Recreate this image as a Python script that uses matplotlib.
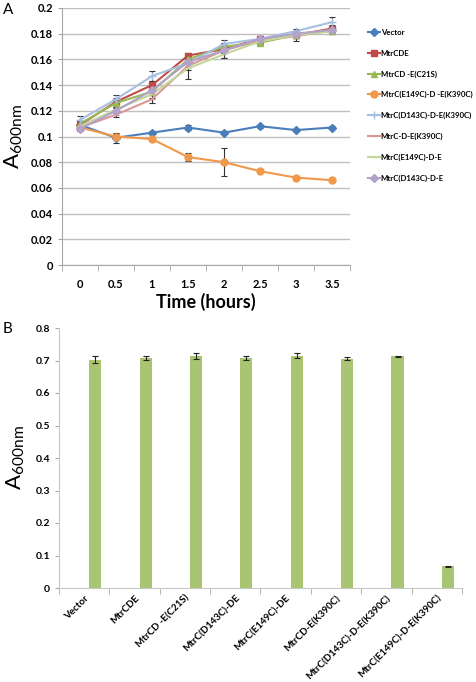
import matplotlib
matplotlib.use("Agg")
import matplotlib.pyplot as plt
from matplotlib.ticker import FixedLocator

plt.rcParams['font.family'] = ['Lato', 'DejaVu Sans']
plt.rcParams['mathtext.fontset'] = 'custom'
plt.rcParams['mathtext.rm'] = 'Lato'

# panel A: growth curves
times = ["0", "0.5", "1", "1.5", "2", "2.5", "3", "3.5"]
names = ["Vector", "MtrCDE", "MtrCD -E(C21S)", "MtrC(E149C)-D -E(K390C)",
         "MtrC(D143C)-D-E(K390C)", "MtrC-D-E(K390C)", "MtrC(E149C)-D-E",
         "MtrC(D143C)-D-E"]
vector = [0.109, 0.099, 0.103, 0.107, 0.103, 0.108, 0.105, 0.107]
mtrcde = [0.109, 0.127, 0.140, 0.163, 0.168, 0.176, 0.179, 0.184]
c21s = [0.110, 0.126, 0.135, 0.160, 0.170, 0.173, 0.179, 0.182]
e149_k390 = [0.107, 0.100, 0.098, 0.084, 0.080, 0.073, 0.068, 0.066]
d143_k390 = [0.113, 0.129, 0.147, 0.157, 0.172, 0.176, 0.182, 0.189]
k390 = [0.107, 0.117, 0.129, 0.155, 0.167, 0.175, 0.178, 0.183]
e149 = [0.108, 0.121, 0.133, 0.153, 0.164, 0.174, 0.179, 0.182]
d143 = [0.106, 0.120, 0.136, 0.158, 0.167, 0.176, 0.180, 0.183]

err_vector = [0.003, 0.004, 0.001, 0.002, 0.001, 0.001, 0.001, 0.001]
err_mtrcde = [0.002, 0.003, 0.003, 0.002, 0.003, 0.002, 0.002, 0.003]
err_c21s = [0.002, 0.003, 0.003, 0.003, 0.003, 0.002, 0.002, 0.002]
err_e149_k390 = [0.002, 0.002, 0.001, 0.003, 0.011, 0.001, 0.001, 0.001]
err_d143_k390 = [0.003, 0.003, 0.004, 0.003, 0.003, 0.002, 0.002, 0.004]
err_k390 = [0.003, 0.002, 0.003, 0.003, 0.002, 0.002, 0.004, 0.002]
err_e149 = [0.002, 0.002, 0.003, 0.008, 0.003, 0.002, 0.002, 0.002]
err_d143 = [0.002, 0.002, 0.003, 0.003, 0.006, 0.002, 0.002, 0.002]

# panel B: endpoint OD
strains = ["Vector", "MtrCDE", "MtrCD -E(C21S)", "MtrC(D143C)-DE", "MtrC(E149C)-DE",
           "MtrCD-E(K390C)", "MtrC(D143C)-D-E(K390C)", "MtrC(E149C)-D-E(K390C)"]
od = [0.703, 0.708, 0.713, 0.708, 0.715, 0.706, 0.713, 0.067]
od_err = [0.010, 0.007, 0.009, 0.006, 0.007, 0.004, 0.001, 0.002]

series = [vector, mtrcde, c21s, e149_k390, d143_k390, k390, e149, d143]
errs = [err_vector, err_mtrcde, err_c21s, err_e149_k390, err_d143_k390, err_k390, err_e149, err_d143]
colors = ["#4A7EBB", "#BE4B48", "#98B954", "#F1984A", "#A7C0E0", "#D99795", "#C4D79B", "#B3A2C7"]
markers = ["D", "s", "^", "o", "+", "_", "_", "D"]
msizes = [4, 5, 5, 5, 6, 4, 4, 4]

W, H = 477, 682
fig = plt.figure(figsize=(W / 100, H / 100), dpi=100)

def box(l, t, r, b):
    return [l / W, 1 - b / H, (r - l) / W, (b - t) / H]

gray = "#A6A6A6"

ax = fig.add_axes(box(62, 8, 350, 265))
x = list(range(len(times)))
handles = []
for s, e, c, m, ms, n in zip(series, errs, colors, markers, msizes, names):
    cont = ax.errorbar(x, s, yerr=e, color=c, marker=m, markersize=ms, lw=1.5,
                       ecolor="#333333", elinewidth=0.8, capsize=2, capthick=0.8, label=n)
    handles.append(cont.lines[0])
ax.set_ylim(0, 0.2)
ax.set_xlim(-0.5, len(times) - 0.5)
ax.set_yticks([0, 0.02, 0.04, 0.06, 0.08, 0.1, 0.12, 0.14, 0.16, 0.18, 0.2])
ax.set_yticklabels(["0", "0.02", "0.04", "0.06", "0.08", "0.1", "0.12", "0.14", "0.16", "0.18", "0.2"])
ax.set_xticks(x)
ax.set_xticklabels(times)
ax.xaxis.set_minor_locator(FixedLocator([i - 0.5 for i in range(len(times) + 1)]))
ax.tick_params(axis="x", which="major", length=0, pad=10)
ax.tick_params(axis="x", which="minor", length=4, color=gray, direction="out")
ax.tick_params(axis="y", length=3, color=gray, direction="out")
ax.grid(axis="y", color="#BFBFBF", lw=1)
ax.set_axisbelow(True)
for sp in ["top", "right"]:
    ax.spines[sp].set_visible(False)
for sp in ["left", "bottom"]:
    ax.spines[sp].set_color(gray)
for lab in ax.get_xticklabels() + ax.get_yticklabels():
    lab.set_fontweight("bold")
    lab.set_fontsize(8)
ax.set_xlabel("Time (hours)", fontsize=13, fontweight="bold", labelpad=2)
ax.set_ylabel(r"A$_{\mathrm{600nm}}$", fontsize=16, labelpad=4)
ax.legend(handles, names, loc="upper left", bbox_to_anchor=(1.05, 0.93), frameon=False,
          prop={"size": 5.6, "weight": "bold"}, handlelength=1.6,
          handletextpad=0.1, labelspacing=1.75, borderaxespad=0)
fig.text(3 / W, 1 - 14 / H, "A", fontsize=11)

bx = fig.add_axes(box(59, 328, 462, 588))
pos = list(range(len(strains)))
bx.bar([p + 0.22 for p in pos], od, width=0.24, color="#9BBB59", alpha=0.85,
       yerr=od_err, error_kw=dict(ecolor="#222222", elinewidth=0.8, capsize=2.5, capthick=0.8))
bx.set_xlim(-0.5, len(strains) - 0.5)
bx.set_ylim(0, 0.8)
bx.set_yticks([0, 0.1, 0.2, 0.3, 0.4, 0.5, 0.6, 0.7, 0.8])
bx.set_yticklabels(["0", "0.1", "0.2", "0.3", "0.4", "0.5", "0.6", "0.7", "0.8"])
bx.set_xticks(pos)
bx.set_xticklabels(strains, rotation=45, ha="right", rotation_mode="anchor")
bx.xaxis.set_minor_locator(FixedLocator([i - 0.5 for i in range(len(strains) + 1)]))
bx.tick_params(axis="x", which="major", length=0, pad=4)
bx.tick_params(axis="x", which="minor", length=4, color=gray, direction="out")
bx.tick_params(axis="y", length=3, color=gray, direction="out")
for sp in ["top", "right"]:
    bx.spines[sp].set_visible(False)
for sp in ["left", "bottom"]:
    bx.spines[sp].set_color("#C8C8C8")
for lab in bx.get_yticklabels():
    lab.set_fontweight("bold")
    lab.set_fontsize(7.5)
for lab in bx.get_xticklabels():
    lab.set_fontweight("bold")
    lab.set_fontsize(7.0)
bx.set_ylabel(r"A$_{\mathrm{600nm}}$", fontsize=16, labelpad=6)
fig.text(3 / W, 1 - 333 / H, "B", fontsize=11)

fig.savefig("out.png", dpi=100)
